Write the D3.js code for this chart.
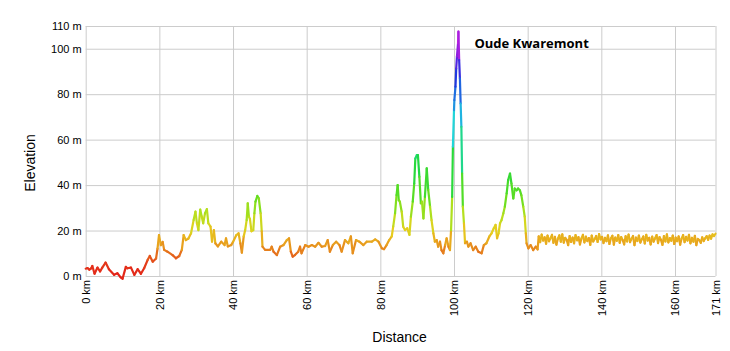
<!DOCTYPE html>
<html>
<head>
<meta charset="utf-8">
<script src="https://cdn.jsdelivr.net/npm/d3@7"></script>
<style>
  body { margin: 0; background: #fff; }
  svg text { font-family: "Liberation Sans", Arial, sans-serif; fill: #000; }
</style>
</head>
<body>
<div id="chart"></div>
<script>
// size of the picture and the plot box inside it
const svgWidth = 730;
const svgHeight = 351;
const margin = { top: 26, right: 14.5, bottom: 75, left: 85.7 };
const width = svgWidth - margin.left - margin.right;
const height = svgHeight - margin.top - margin.bottom;

// tick values for both axes
const kmTicks = [0, 20, 40, 60, 80, 100, 120, 140, 160, 171];
const mTicks = [0, 20, 40, 60, 80, 100, 110];

// elevation profile: distance (km) and height (m)
const profileKm = [
  0, 0.5, 1.0, 1.5, 1.8, 2.4, 3.2, 3.9, 4.5, 5.4, 6.3, 7.7, 8.6, 9.5, 10.0, 10.9, 11.3, 12.3, 13.2, 14.1,
  15.0, 15.9, 16.8, 17.4, 18.2, 19.1, 19.5, 19.9, 20.4, 20.9, 21.3, 22.2, 23.6, 24.5, 25.4, 26.1, 26.6, 27.2, 27.9, 28.6,
  29.3, 29.8, 30.2, 30.6, 31.1, 31.5, 31.9, 32.4, 32.9, 33.3, 33.9, 34.3, 34.8, 35.2, 35.9, 36.8, 37.7, 38.1, 38.6, 39.5,
  40.0, 40.9, 41.5, 42.0, 42.4, 42.9, 43.3, 43.7, 44.0, 44.3, 44.6, 45.0, 45.5, 45.8, 46.1, 46.6, 47.0, 47.5, 47.8, 48.0,
  48.7, 50.1, 50.5, 51.0, 51.9, 52.8, 53.7, 54.6, 55.2, 55.7, 56.2, 56.8, 57.7, 58.2, 58.6, 59.6, 60.5, 61.4, 62.3, 63.2,
  64.1, 65.0, 65.7, 66.3, 67.1, 68.0, 68.9, 69.5, 70.4, 71.3, 72.0, 72.5, 73.4, 74.3, 75.4, 76.3, 77.7, 78.6, 79.5, 80.4,
  81.0, 81.7, 82.4, 83.1, 83.5, 84.0, 84.4, 84.7, 85.0, 85.3, 85.8, 86.2, 86.7, 87.3, 87.9, 88.3, 88.8, 89.2, 89.5, 89.9,
  90.2, 90.6, 91.0, 91.3, 91.7, 92.1, 92.6, 93.0, 93.5, 93.9, 94.4, 94.8, 95.3, 95.7, 96.2, 96.6, 97.1, 97.6, 98.0, 98.5,
  98.9, 99.2, 99.5, 99.7, 100.0, 100.1, 100.4, 100.6, 100.8, 101.1, 101.2, 101.4, 101.6, 101.8, 102.0, 102.2, 102.4, 102.7, 103.0, 103.5,
  103.9, 104.5, 105.2, 105.9, 106.6, 107.5, 108.1, 108.8, 109.6, 110.2, 110.8, 111.3, 111.7, 112.1, 112.5, 112.9, 113.4, 113.8, 114.3, 114.7,
  115.2, 115.6, 116.1, 116.5, 117.0, 117.4, 117.9, 118.3, 118.8, 119.2, 119.5, 119.7, 120.2, 120.8, 121.5, 122.2, 122.7,
  123.0, 123.4, 123.8, 124.2, 124.6, 125.0, 125.4, 125.8, 126.2, 126.6,
  127.0, 127.4, 127.8, 128.2, 128.6, 129.0, 129.4, 129.8, 130.2, 130.6,
  131.0, 131.4, 131.8, 132.2, 132.6, 133.0, 133.4, 133.8, 134.2, 134.6,
  135.0, 135.4, 135.8, 136.2, 136.6, 137.0, 137.4, 137.8, 138.2, 138.6,
  139.0, 139.4, 139.8, 140.2, 140.6, 141.0, 141.4, 141.8, 142.2, 142.6,
  143.0, 143.4, 143.8, 144.2, 144.6, 145.0, 145.4, 145.8, 146.2, 146.6,
  147.0, 147.4, 147.8, 148.2, 148.6, 149.0, 149.4, 149.8, 150.2, 150.6,
  151.0, 151.4, 151.8, 152.2, 152.6, 153.0, 153.4, 153.8, 154.2, 154.6,
  155.0, 155.4, 155.8, 156.2, 156.6, 157.0, 157.4, 157.8, 158.2, 158.6,
  159.0, 159.4, 159.8, 160.2, 160.6, 161.0, 161.4, 161.8, 162.2, 162.6,
  163.0, 163.4, 163.8, 164.2, 164.6, 165.0, 165.4, 165.8, 166.2, 166.6,
  167.0, 167.4, 167.8, 168.2, 168.6, 169.0, 169.4, 169.8, 170.2, 170.6,
  171.0
];
const profileM = [
  3.2, 3.5, 2.8, 3.4, 4.4, 1.0, 3.7, 2.0, 3.7, 5.9, 3.0, 0.5, 1.2, -0.6, -1.2, 4.0, 3.4, 3.7, 0.5, 3.0,
  1.0, 3.5, 7.0, 8.8, 6.3, 7.7, 12.0, 18.0, 13.6, 15.0, 11.5, 10.7, 9.2, 7.8, 8.8, 11.5, 18.0, 15.8, 16.5, 18.8,
  24.6, 28.3, 23.2, 20.2, 29.2, 26.2, 23.2, 27.6, 29.4, 23.2, 21.7, 15.1, 20.2, 14.4, 13.0, 15.1, 13.6, 16.6, 13.0, 13.6,
  15.0, 18.0, 18.8, 14.4, 10.3, 17.4, 20.2, 24.6, 32.0, 26.2, 25.0, 19.7, 20.2, 27.6, 32.7, 35.2, 34.2, 27.6, 19.7, 12.9,
  11.5, 11.5, 12.9, 10.7, 9.2, 12.9, 13.6, 15.8, 16.6, 10.7, 8.5, 9.2, 10.7, 12.9, 10.0, 13.6, 12.9, 13.6, 12.9, 14.6,
  12.9, 13.2, 15.8, 10.7, 13.6, 15.1, 13.6, 10.7, 15.8, 14.4, 17.4, 10.0, 15.8, 15.1, 13.6, 15.1, 15.1, 16.1, 15.1, 12.2,
  11.8, 13.6, 15.8, 17.4, 21.8, 27.6, 35.6, 40.0, 33.4, 32.7, 28.3, 21.7, 20.2, 21.0, 18.1, 26.1, 32.7, 40.7, 51.7, 53.2,
  53.2, 43.6, 32.0, 32.7, 25.3, 34.8, 47.4, 37.9, 30.5, 24.6, 18.8, 15.1, 15.8, 12.9, 15.1, 11.4, 10.0, 13.6, 16.6, 12.9,
  11.4, 20.2, 34.8, 56.9, 73.0, 77.4, 83.3, 91.3, 96.5, 102.4, 107.5, 95.0, 87.0, 75.9, 65.6, 45.1, 30.5, 23.2, 14.4, 15.1,
  12.9, 14.4, 11.4, 12.9, 10.7, 10.0, 13.6, 14.4, 17.4, 18.8, 21.0, 22.5, 16.6, 18.8, 23.2, 24.6, 27.6, 30.5, 36.4, 42.2,
  45.1, 40.7, 34.1, 38.5, 37.7, 38.5, 37.7, 35.5, 30.5, 26.1, 18.8, 14.4, 12.2, 13.6, 11.4, 12.9, 11.7,
  17.4, 14.9, 18.2, 15.6, 17.0, 14.2, 17.8, 15.3, 16.6, 18.1,
  14.6, 17.2, 13.8, 16.4, 17.9, 15.1, 18.3, 14.7, 16.8, 15.9,
  13.6, 17.6, 15.0, 16.9, 14.4, 18.0, 15.7, 17.1, 13.9, 16.5,
  18.1, 14.8, 17.3, 15.4, 16.7, 13.7, 17.8, 15.2, 16.3, 17.6,
  15.0, 18.4, 16.1, 17.2, 14.5, 16.8, 15.3, 17.9, 14.1, 16.6,
  17.7, 13.8, 16.9, 15.5, 18.0, 14.6, 17.1, 15.8, 13.9, 17.5,
  15.2, 18.2, 14.9, 16.4, 17.6, 13.6, 16.9, 15.4, 17.8, 14.7,
  16.2, 17.4, 14.3, 18.1, 15.6, 16.8, 13.9, 17.3, 15.1, 16.6,
  18.0, 14.5, 17.1, 15.9, 13.7, 17.6, 15.2, 18.3, 14.8, 16.7,
  15.5, 17.8, 14.1, 16.9, 15.3, 17.4, 13.8, 16.5, 18.0, 14.9,
  17.2, 15.6, 18.1, 14.4, 16.8, 15.1, 17.7, 13.6, 16.3, 15.8,
  14.6, 17.0, 15.4, 16.6, 17.5, 15.9, 17.8, 16.4, 18.3, 17.6,
  18.6
];

// colour of the line depends on the height
const colorHeights = [0, 5, 10, 15, 20, 27, 35, 48, 58, 66, 76, 88, 97, 103, 108];
const colorValues = ["#e32219", "#e4381a", "#e56f1c", "#e8a41e", "#e6d01e", "#b4e01e", "#5ede20", "#20d840",
                     "#20d8a8", "#20d4e0", "#2090e0", "#2034e0", "#6a20e0", "#c020e0", "#e020e0"];

// climb label
const climbName = "Oude Kwaremont";

const svg = d3.select("#chart")
    .append("svg")
    .attr("width", svgWidth)
    .attr("height", svgHeight)
    .append("g")
    .attr("transform", `translate(${margin.left},${margin.top})`);

const x = d3.scaleLinear()
    .domain([0, 171])
    .range([0, width]);

const y = d3.scaleLinear()
    .domain([0, 110])
    .range([height, 0]);

const colorScale = d3.scaleLinear()
    .domain(colorHeights)
    .range(colorValues)
    .clamp(true);

// grid + y axis labels
const yAxis = svg.append("g")
    .attr("class", "axis axis-y")
    .call(d3.axisLeft(y).tickValues(mTicks).tickFormat(d => `${d} m`)
        .tickSizeInner(-width).tickSizeOuter(0).tickPadding(4));
yAxis.select(".domain").remove();

const xAxis = svg.append("g")
    .attr("class", "axis axis-x")
    .attr("transform", `translate(0, ${height})`)
    .call(d3.axisBottom(x).tickValues(kmTicks).tickFormat(d => `${d} km`)
        .tickSizeInner(-height).tickSizeOuter(0));
xAxis.select(".domain").remove();

// x labels stand on end below the plot
xAxis.selectAll("text")
    .attr("transform", "translate(0, 4) rotate(-90)")
    .attr("text-anchor", "end")
    .attr("x", 0)
    .attr("y", 0)
    .attr("dy", "0.35em");

d3.selectAll(".axis line").attr("stroke", "#cccccc").attr("stroke-width", 1);
d3.selectAll(".axis text").attr("font-size", "11px").attr("fill", "#000");

// one short piece of line per step, coloured by its height
const steps = d3.range(profileKm.length - 1);

svg.selectAll(".seg")
    .data(steps)
    .enter()
    .append("line")
    .attr("class", "seg")
    .attr("x1", i => x(profileKm[i]))
    .attr("y1", i => y(profileM[i]))
    .attr("x2", i => x(profileKm[i + 1]))
    .attr("y2", i => y(profileM[i + 1]))
    .attr("stroke", i => colorScale((profileM[i] + profileM[i + 1]) / 2))
    .attr("stroke-width", 2.2)
    .attr("stroke-linecap", "round");

// name of the big climb, next to its top
const topIndex = d3.maxIndex(profileM);
svg.append("text")
    .text(climbName)
    .attr("x", x(profileKm[topIndex]) + 16)
    .attr("y", y(profileM[topIndex]) + 16)
    .attr("font-size", "13px")
    .attr("font-weight", "bold")
    .style("font-family", "'Open Sans', sans-serif");

// axis titles
svg.append("text")
    .text("Elevation")
    .attr("transform", `translate(${-margin.left + 35}, ${height / 2 + 12}) rotate(-90)`)
    .attr("text-anchor", "middle")
    .attr("font-size", "14px");

svg.append("text")
    .text("Distance")
    .attr("x", width / 2 - 1)
    .attr("y", height + 66)
    .attr("text-anchor", "middle")
    .attr("font-size", "14px");
</script>
</body>
</html>
